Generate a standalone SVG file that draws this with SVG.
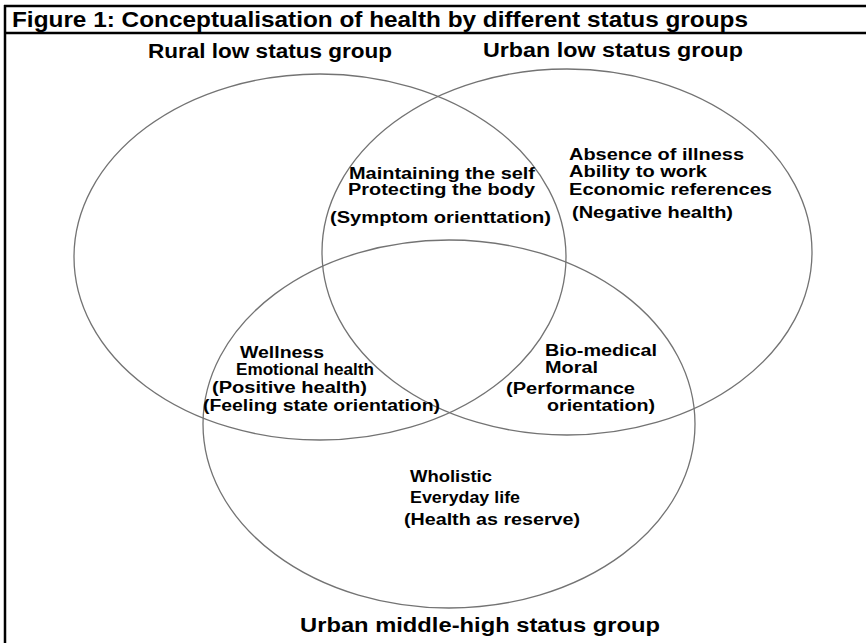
<svg xmlns="http://www.w3.org/2000/svg" width="866" height="643" viewBox="0 0 866 643">
<style>
.frame{stroke:#000;stroke-width:2.5;fill:none}
.circ{fill:none;stroke:#737373;stroke-width:1.3}
.t{font-family:"Liberation Sans",Arial,sans-serif;font-weight:bold;fill:#000}
.title{font-size:21.5px}
.grp{font-size:19.5px}
.lbl{font-size:16px}
</style>
<rect width="866" height="643" fill="#fff"/>
<g id="frame">
<line class="frame" x1="4" y1="6" x2="866" y2="6"/>
<line class="frame" x1="4" y1="33" x2="866" y2="33"/>
<line class="frame" x1="5" y1="5" x2="5" y2="643"/>
<text class="t title" x="12" y="27" textLength="736" lengthAdjust="spacingAndGlyphs">Figure 1: Conceptualisation of health by different status groups</text>
</g>
<g id="connectors"></g>
<g id="rural">
<ellipse class="circ" cx="320" cy="257" rx="246" ry="183"/>
<text class="t grp" x="148" y="58" textLength="244" lengthAdjust="spacingAndGlyphs">Rural low status group</text>
</g>
<g id="urban-low">
<ellipse class="circ" cx="567" cy="252" rx="245" ry="183"/>
<text class="t grp" x="483" y="57" textLength="260" lengthAdjust="spacingAndGlyphs">Urban low status group</text>
</g>
<g id="urban-mid">
<ellipse class="circ" cx="449" cy="424" rx="246" ry="184"/>
<text class="t grp" x="300" y="632" textLength="360" lengthAdjust="spacingAndGlyphs">Urban middle-high status group</text>
</g>
<g id="rural-urbanlow">
<text class="t lbl" x="349" y="179" textLength="186" lengthAdjust="spacingAndGlyphs">Maintaining the self</text>
<text class="t lbl" x="348" y="195" textLength="187" lengthAdjust="spacingAndGlyphs">Protecting the body</text>
<text class="t lbl" x="330" y="223" textLength="221" lengthAdjust="spacingAndGlyphs">(Symptom orienttation)</text>
</g>
<g id="urbanlow-only">
<text class="t lbl" x="569" y="160" textLength="175" lengthAdjust="spacingAndGlyphs">Absence of illness</text>
<text class="t lbl" x="569" y="177" textLength="138" lengthAdjust="spacingAndGlyphs">Ability to work</text>
<text class="t lbl" x="569" y="195" textLength="203" lengthAdjust="spacingAndGlyphs">Economic references</text>
<text class="t lbl" x="572" y="218" textLength="161" lengthAdjust="spacingAndGlyphs">(Negative health)</text>
</g>
<g id="rural-urbanmid">
<text class="t lbl" x="240" y="358" textLength="84" lengthAdjust="spacingAndGlyphs">Wellness</text>
<text class="t lbl" x="236" y="375" textLength="138" lengthAdjust="spacingAndGlyphs">Emotional health</text>
<text class="t lbl" x="212" y="393" textLength="155" lengthAdjust="spacingAndGlyphs">(Positive health)</text>
<text class="t lbl" x="203" y="411" textLength="237" lengthAdjust="spacingAndGlyphs">(Feeling state orientation)</text>
</g>
<g id="urbanlow-urbanmid">
<text class="t lbl" x="545" y="356" textLength="112" lengthAdjust="spacingAndGlyphs">Bio-medical</text>
<text class="t lbl" x="545" y="373" textLength="53" lengthAdjust="spacingAndGlyphs">Moral</text>
<text class="t lbl" x="506" y="394" textLength="129" lengthAdjust="spacingAndGlyphs">(Performance</text>
<text class="t lbl" x="547" y="411" textLength="108" lengthAdjust="spacingAndGlyphs">orientation)</text>
</g>
<g id="urbanmid-only">
<text class="t lbl" x="410" y="482" textLength="82" lengthAdjust="spacingAndGlyphs">Wholistic</text>
<text class="t lbl" x="410" y="503" textLength="110" lengthAdjust="spacingAndGlyphs">Everyday life</text>
<text class="t lbl" x="404" y="525" textLength="176" lengthAdjust="spacingAndGlyphs">(Health as reserve)</text>
</g>
</svg>
